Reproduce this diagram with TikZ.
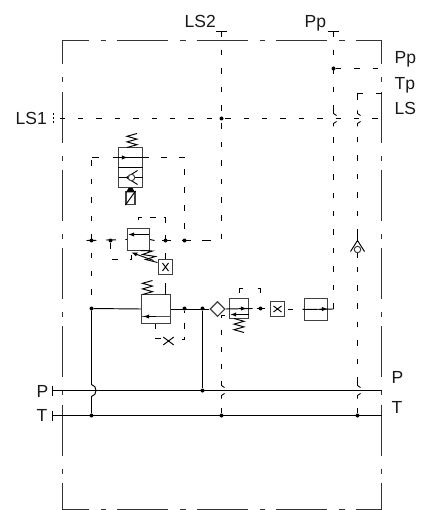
\documentclass[tikz,border=0pt]{standalone}
\usepackage{fontspec}
\setmainfont{Liberation Sans}
\usetikzlibrary{shapes.geometric, arrows, calc, positioning}
\tikzstyle{line} = [line width=0.95pt, black]
\tikzstyle{pilot} = [line width=0.95pt, black, dash pattern=on 5.5 off 12.9]
\tikzstyle{frametop} = [line width=1pt, black!80, dash pattern=on 51 off 12 on 5.5 off 11, dash phase=25]
\tikzstyle{frameside} = [line width=1pt, black!80, dash pattern=on 51 off 13 on 5 off 9.2, dash phase=27]
\tikzstyle{valve} = [rectangle, line width=1.1pt, draw=black!75, inner sep=0pt]
\tikzstyle{orifice} = [rectangle, line width=1.1pt, draw=black!75, inner sep=0pt, minimum size=14.5pt]
\tikzstyle{dot} = [circle, fill=black, inner sep=0pt, minimum size=4pt]
\tikzstyle{port} = [font=\fontsize{17.5}{20}\selectfont, anchor=base west, inner sep=0pt, text=black!90]
\tikzstyle{arrow} = [line width=0.95pt,->,>=latex]
\tikzset{
	spring/.pic={\draw[line] (-5,0) -- (5,-2.8) -- (-5,-5.6) -- (5,-8.4) -- (-5,-11.2) -- (5,-14);},
	cross/.pic={\draw[line] (-4,-3) -- (4,3) (-4,3) -- (4,-3);},
	jump/.pic={\draw[line width=0.9pt] (0,-8) -- (0,-5) -- (3,-3) (3,3) -- (0,5) -- (0,8);},
}
\begin{document}
\begin{tikzpicture}[x=1pt, y=-1pt]
	\useasboundingbox (-0.5,-0.5) rectangle (424.5,509.5);
	% frame
	\coordinate (FrameTL) at (62,40);
	\coordinate (FrameTR) at (381,40);
	\coordinate (FrameBL) at (62,509);
	\coordinate (FrameBR) at (381,509);
	\draw [frametop] (FrameTL) -- (FrameTR);
	\draw [frametop] (FrameBL) -- (FrameBR);
	\draw [frameside] (FrameTL) -- (FrameBL);
	\draw [frameside] (FrameTR) -- (FrameBR);
	% labels
	\node (LabelLSTwo) [port] at (184,27) {LS2};
	\node (LabelPpTop) [port] at (304,27) {Pp};
	\node (LabelPp) [port] at (394,63) {Pp};
	\node (LabelTp) [port] at (394,89) {Tp};
	\node (LabelLS) [port] at (394,114) {LS};
	\node (LabelLSOne) [port] at (15,124) {LS1};
	\node (LabelPLeft) [port] at (36,397) {P};
	\node (LabelTLeft) [port] at (36,421) {T};
	\node (LabelPRight) [port] at (391,383) {P};
	\node (LabelTRight) [port] at (391,413) {T};
	% valves
	\node (TopValve) [valve, minimum width=23.5pt, minimum height=40pt] at (130,167) {};
	\node (Solenoid) [valve, minimum width=9pt, minimum height=13pt] at (130,197.5) {};
	\node (MidValve) [valve, minimum width=22pt, minimum height=22pt] at (138,239) {};
	\node (MainValve) [valve, minimum width=29pt, minimum height=29pt] at (155.5,308.5) {};
	\node (LowValve) [valve, minimum width=19pt, minimum height=20pt] at (238.5,308) {};
	\node (EndValve) [valve, minimum width=23pt, minimum height=22pt] at (315.5,309) {};
	\node (Shuttle) [diamond, draw=black!75, line width=1.1pt, inner sep=0pt, minimum size=15pt] at (217,308.5) {};
	\node (OrificeA) [orifice] at (165,266.5) {};
	\node (OrificeB) [orifice] at (277,308.5) {};
	\pic at (OrificeA) [rotate=90] {cross};
	\pic at (OrificeB) {cross};
	\node (OrificeC) [inner sep=0pt, minimum size=8pt] at (168,340.5) {};
	\pic at (OrificeC) [scale=1.3] {cross};
	% junctions
	\node (JuncLS) [dot] at (221,118) {};
	\node (JuncPp) [dot] at (333,68) {};
	\node (JuncA) [dot] at (91,240) {};
	\node (JuncB) [dot] at (110,240) {};
	\node (JuncC) [dot] at (165,240) {};
	\node (JuncD) [dot] at (184,240) {};
	\node (JuncE) [dot] at (91,308) {};
	\node (JuncF) [dot] at (184,308) {};
	\node (JuncG) [dot] at (202,308) {};
	\node (JuncH) [dot] at (260,308) {};
	\node (JuncI) [dot] at (202,390) {};
	\node (JuncJ) [dot] at (91,415) {};
	\node (JuncK) [dot] at (221,415) {};
	\node (JuncL) [dot] at (357,415) {};
	% ports
	\coordinate (PortLSTwo) at (221,31);
	\coordinate (PortPp) at (333,31);
	\coordinate (PortLSOne) at (53,118);
	\coordinate (PortP) at (52,390);
	\coordinate (PortT) at (52,415);
	\draw [line] ($(PortLSTwo)+(-5.5,0)$) -- ($(PortLSTwo)+(5.5,0)$);
	\draw [line] ($(PortPp)+(-5.5,0)$) -- ($(PortPp)+(5.5,0)$);
	\draw [line] ($(PortP)+(0,-5)$) -- ($(PortP)+(0,5)$);
	\draw [line] ($(PortT)+(0,-5)$) -- ($(PortT)+(0,5)$);
	\draw [line, dash pattern=on 2 off 2] ($(PortLSOne)+(0,-5)$) -- ($(PortLSOne)+(0,5)$);
	% pressure and tank lines
	\coordinate (RightP) at (381,390);
	\coordinate (RightT) at (381,415);
	\draw [line] (PortP) -- (RightP);
	\draw [line] (PortT) -- (RightT);
	\draw [line] (JuncE) -- (MainValve.west);
	\draw [line] (JuncE) -- (91,384) .. controls (97,385) and (97,395) .. (91,396) -- (JuncJ);
	\draw [line] (MainValve.east) -- (Shuttle.west);
	\draw [line] (JuncG) -- (JuncI);
	% LS lines
	\draw [pilot] (59,118) -- (381,118);
	\draw [pilot] (PortLSTwo) -- (221,240);
	\draw [pilot, dash pattern=on 9 off 11] (161,240) -- (221,240);
	\draw [pilot] (PortPp) -- (333,113);
	\draw [pilot] (JuncPp) -- (381,68);
	\draw [pilot] (333,308) -- (333,123);
	\pic at (333,118) {jump};
	\draw [pilot, dash pattern=on 6 off 13 on 12 off 50] (381,93) -- (357,93) -- (357,113);
	\pic at (357,118) {jump};
	\draw [pilot] (357,234) -- (357,123);
	\draw [pilot] (357,382) -- (357,256);
	\pic at (357,390) {jump};
	\draw [pilot] (JuncL) -- (357,398);
	% check valve
	\node (CheckValve) [circle, draw=black!75, line width=1pt, inner sep=0pt, minimum size=6.5pt] at (357,249) {};
	\draw [line] (357,233) -- (357,240);
	\draw [line] (350,251) -- (357,240) -- (364,251);
	\draw [line] (CheckValve) -- (357,257);
	% top valve
	\pic at (131.5,147) {spring};
	\draw [line] (TopValve.west) -- (TopValve.east);
	\draw [line] (112,157) -- (148,157);
	\draw [arrow] (118,157) -- (127,157);
	\draw [pilot, dash pattern=on 7 off 100] (91,157) -- (98,157);
	\draw [pilot] (91,160) -- (JuncE);
	\draw [pilot, dash pattern=on 6 off 12] (160,157) -- (184,157) -- (JuncD);
	\draw [line] (118,177) -- (142,177);
	\draw [line] (137,170) -- (126,177) -- (137,184);
	\node (CheckTop) [circle, draw=black!75, fill=white, line width=1pt, inner sep=0pt, minimum size=6.5pt] at (131,177) {};
	\fill (125.5,192) -- (128,187.5) -- (132,187.5) -- (134.5,192) -- cycle;
	\draw [line] (Solenoid.south west) -- (Solenoid.north east);
	% middle valve
	\draw [pilot, dash pattern=on 10 off 9.5] (86,240) -- (MidValve.west);
	\draw [line] (MidValve.east) -- (154,240);
	\draw [arrow] (148,234) -- (128,234);
	\draw [pilot, dash pattern=on 6 off 8, dash phase=6] (138,228) -- (138,217) -- (165,217);
	\draw [pilot, dash pattern=on 6 off 12] (OrificeA.north) -- (165,217);
	\draw [pilot, dash pattern=on 6 off 12] (JuncB) -- (110,259) -- (131,259) -- (131,250);
	\draw [line] (140,250) -- (152,250.5) -- (142,254) -- (155,256) -- (145,259) -- (157,262);
	\draw [arrow] (153,260) -- (131,252);
	% main valve
	\pic at (147,294) {spring};
	\draw [pilot, dash pattern=on 12 off 10] (165,294) -- (OrificeA.south);
	\draw [line, line width=1.8pt, black!70] (MainValve.west |- 0,316) -- (MainValve.east |- 0,316);
	\draw [arrow] (155,316) -- (143,316);
	\draw [pilot, dash pattern=on 5 off 9 on 6 off 30] (155,323) -- (155,338) -- (161,338);
	\draw [pilot, dash pattern=on 9 off 6 on 7 off 30] (JuncF) -- (184,312);
	\draw [pilot, dash pattern=on 6 off 30] (184,322) -- (184,328);
	\draw [line] (184,336) -- (184,339) -- (181,339);
	% low valve
	\draw [line] (Shuttle.east) -- (252,308);
	\draw [arrow] (238,308) -- (246,308);
	\draw [line] (248,314) -- (238,314);
	\draw [arrow] (240,314) -- (230,314);
	\pic [yscale=-1] at (238.5,318) {spring};
	\draw [pilot, dash pattern=on 7 off 15, dash phase=16] (239,298) -- (239,288) -- (260,288) -- (JuncH);
	\draw [line] (256,308) -- (264,308);
	\draw [pilot, dash pattern=on 5 off 12] (224,315) -- (221,315) -- (221,382);
	\pic at (221,390) {jump};
	\draw [pilot] (JuncK) -- (221,398);
	% end valve
	\draw [pilot, dash pattern=on 5 off 30] (OrificeB.east) ++(3,0) -- (292,308.5);
	\draw [line] (302,308.5) -- (EndValve.west);
	\draw [line] (EndValve.west) -- (333,308.5);
	\draw [arrow] (318,308.5) -- (327,308.5);
\end{tikzpicture}
\end{document}
